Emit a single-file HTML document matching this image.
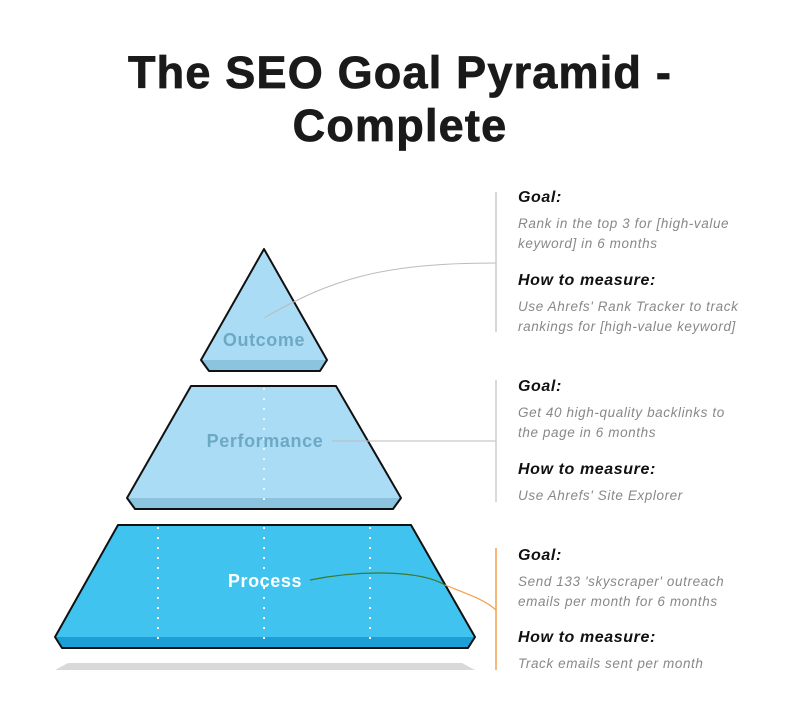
<!DOCTYPE html>
<html><head><style>
body{margin:0;background:#fff;width:800px;height:702px;overflow:hidden;position:relative;font-family:"Liberation Sans",sans-serif}
h1{position:absolute;top:46px;left:0;width:800px;margin:0;text-align:center;font-size:45px;line-height:53px;font-weight:bold;color:#1a1a1a;letter-spacing:1.2px;-webkit-text-stroke:0.8px #1a1a1a}
.t{position:absolute;left:518px;font-style:italic;white-space:nowrap}
.h{font-weight:bold;font-size:16px;color:#111;letter-spacing:.6px}
.b{font-size:13.5px;color:#888;line-height:20px;letter-spacing:.6px}
</style></head><body>
<h1>The SEO Goal Pyramid -<br>Complete</h1>
<svg width="800" height="702" style="position:absolute;left:0;top:0">
<polygon points="55,670 475,670 462,663 68,663" fill="#d9d9d9"/>
<polygon points="264,249 327,360 320,371 209,371 201,360" fill="#aadcf6"/>
<polygon points="201,360 327,360 320,371 209,371" fill="#8cc3df"/>
<polygon points="264,249 327,360 320,371 209,371 201,360" fill="none" stroke="#111" stroke-width="2" stroke-linejoin="round"/>
<polygon points="191,386 336,386 401,498 393,509 135,509 127,498" fill="#aadcf6"/>
<polygon points="127,498 401,498 393,509 135,509" fill="#8cc3df"/>
<line x1="264" y1="388" x2="264" y2="508" stroke="#e6f4fc" stroke-width="2" stroke-dasharray="2,8"/>
<polygon points="191,386 336,386 401,498 393,509 135,509 127,498" fill="none" stroke="#111" stroke-width="2" stroke-linejoin="round"/>
<polygon points="118,525 411,525 475,637 468,648 62,648 55,637" fill="#40c4ef"/>
<polygon points="55,637 475,637 468,648 62,648" fill="#1b9fd6"/>
<g stroke="#fff" stroke-width="2" stroke-dasharray="2,8"><line x1="158" y1="527" x2="158" y2="647"/><line x1="264" y1="527" x2="264" y2="647"/><line x1="370" y1="527" x2="370" y2="647"/></g>
<polygon points="118,525 411,525 475,637 468,648 62,648 55,637" fill="none" stroke="#111" stroke-width="2" stroke-linejoin="round"/>
<path d="M264,318 C330,280 380,263 496,263" fill="none" stroke="#bbb" stroke-width="1"/>
<line x1="332" y1="441" x2="496" y2="441" stroke="#bbb" stroke-width="1"/>
<path d="M310,580 C360,570 420,570 445,585" fill="none" stroke="#3d7a2c" stroke-width="1.2"/>
<path d="M445,585 C470,595 485,600 496,610" fill="none" stroke="#f5a04a" stroke-width="1.2"/>
<line x1="496" y1="192" x2="496" y2="332" stroke="#ccc" stroke-width="1.5"/>
<line x1="496" y1="380" x2="496" y2="502" stroke="#ccc" stroke-width="1.5"/>
<line x1="496" y1="548" x2="496" y2="670" stroke="#f5a04a" stroke-width="1.5"/>
<g font-family="Liberation Sans,sans-serif" font-weight="bold" text-anchor="middle" letter-spacing="0.6">
<text x="264" y="346" font-size="18" fill="#6ea9c4">Outcome</text>
<text x="265" y="447" font-size="18" fill="#6ea9c4">Performance</text>
<text x="265" y="587" font-size="18" fill="#fff">Process</text>
</g>
</svg>
<div class="t h" style="top:189px">Goal:</div>
<div class="t b" style="top:214px">Rank in the top 3 for [high-value<br>keyword] in 6 months</div>
<div class="t h" style="top:272px">How to measure:</div>
<div class="t b" style="top:297px">Use Ahrefs' Rank Tracker to track<br>rankings for [high-value keyword]</div>
<div class="t h" style="top:378px">Goal:</div>
<div class="t b" style="top:403px">Get 40 high-quality backlinks to<br>the page in 6 months</div>
<div class="t h" style="top:461px">How to measure:</div>
<div class="t b" style="top:486px">Use Ahrefs' Site Explorer</div>
<div class="t h" style="top:547px">Goal:</div>
<div class="t b" style="top:572px">Send 133 'skyscraper' outreach<br>emails per month for 6 months</div>
<div class="t h" style="top:629px">How to measure:</div>
<div class="t b" style="top:654px">Track emails sent per month</div>
</body></html>
